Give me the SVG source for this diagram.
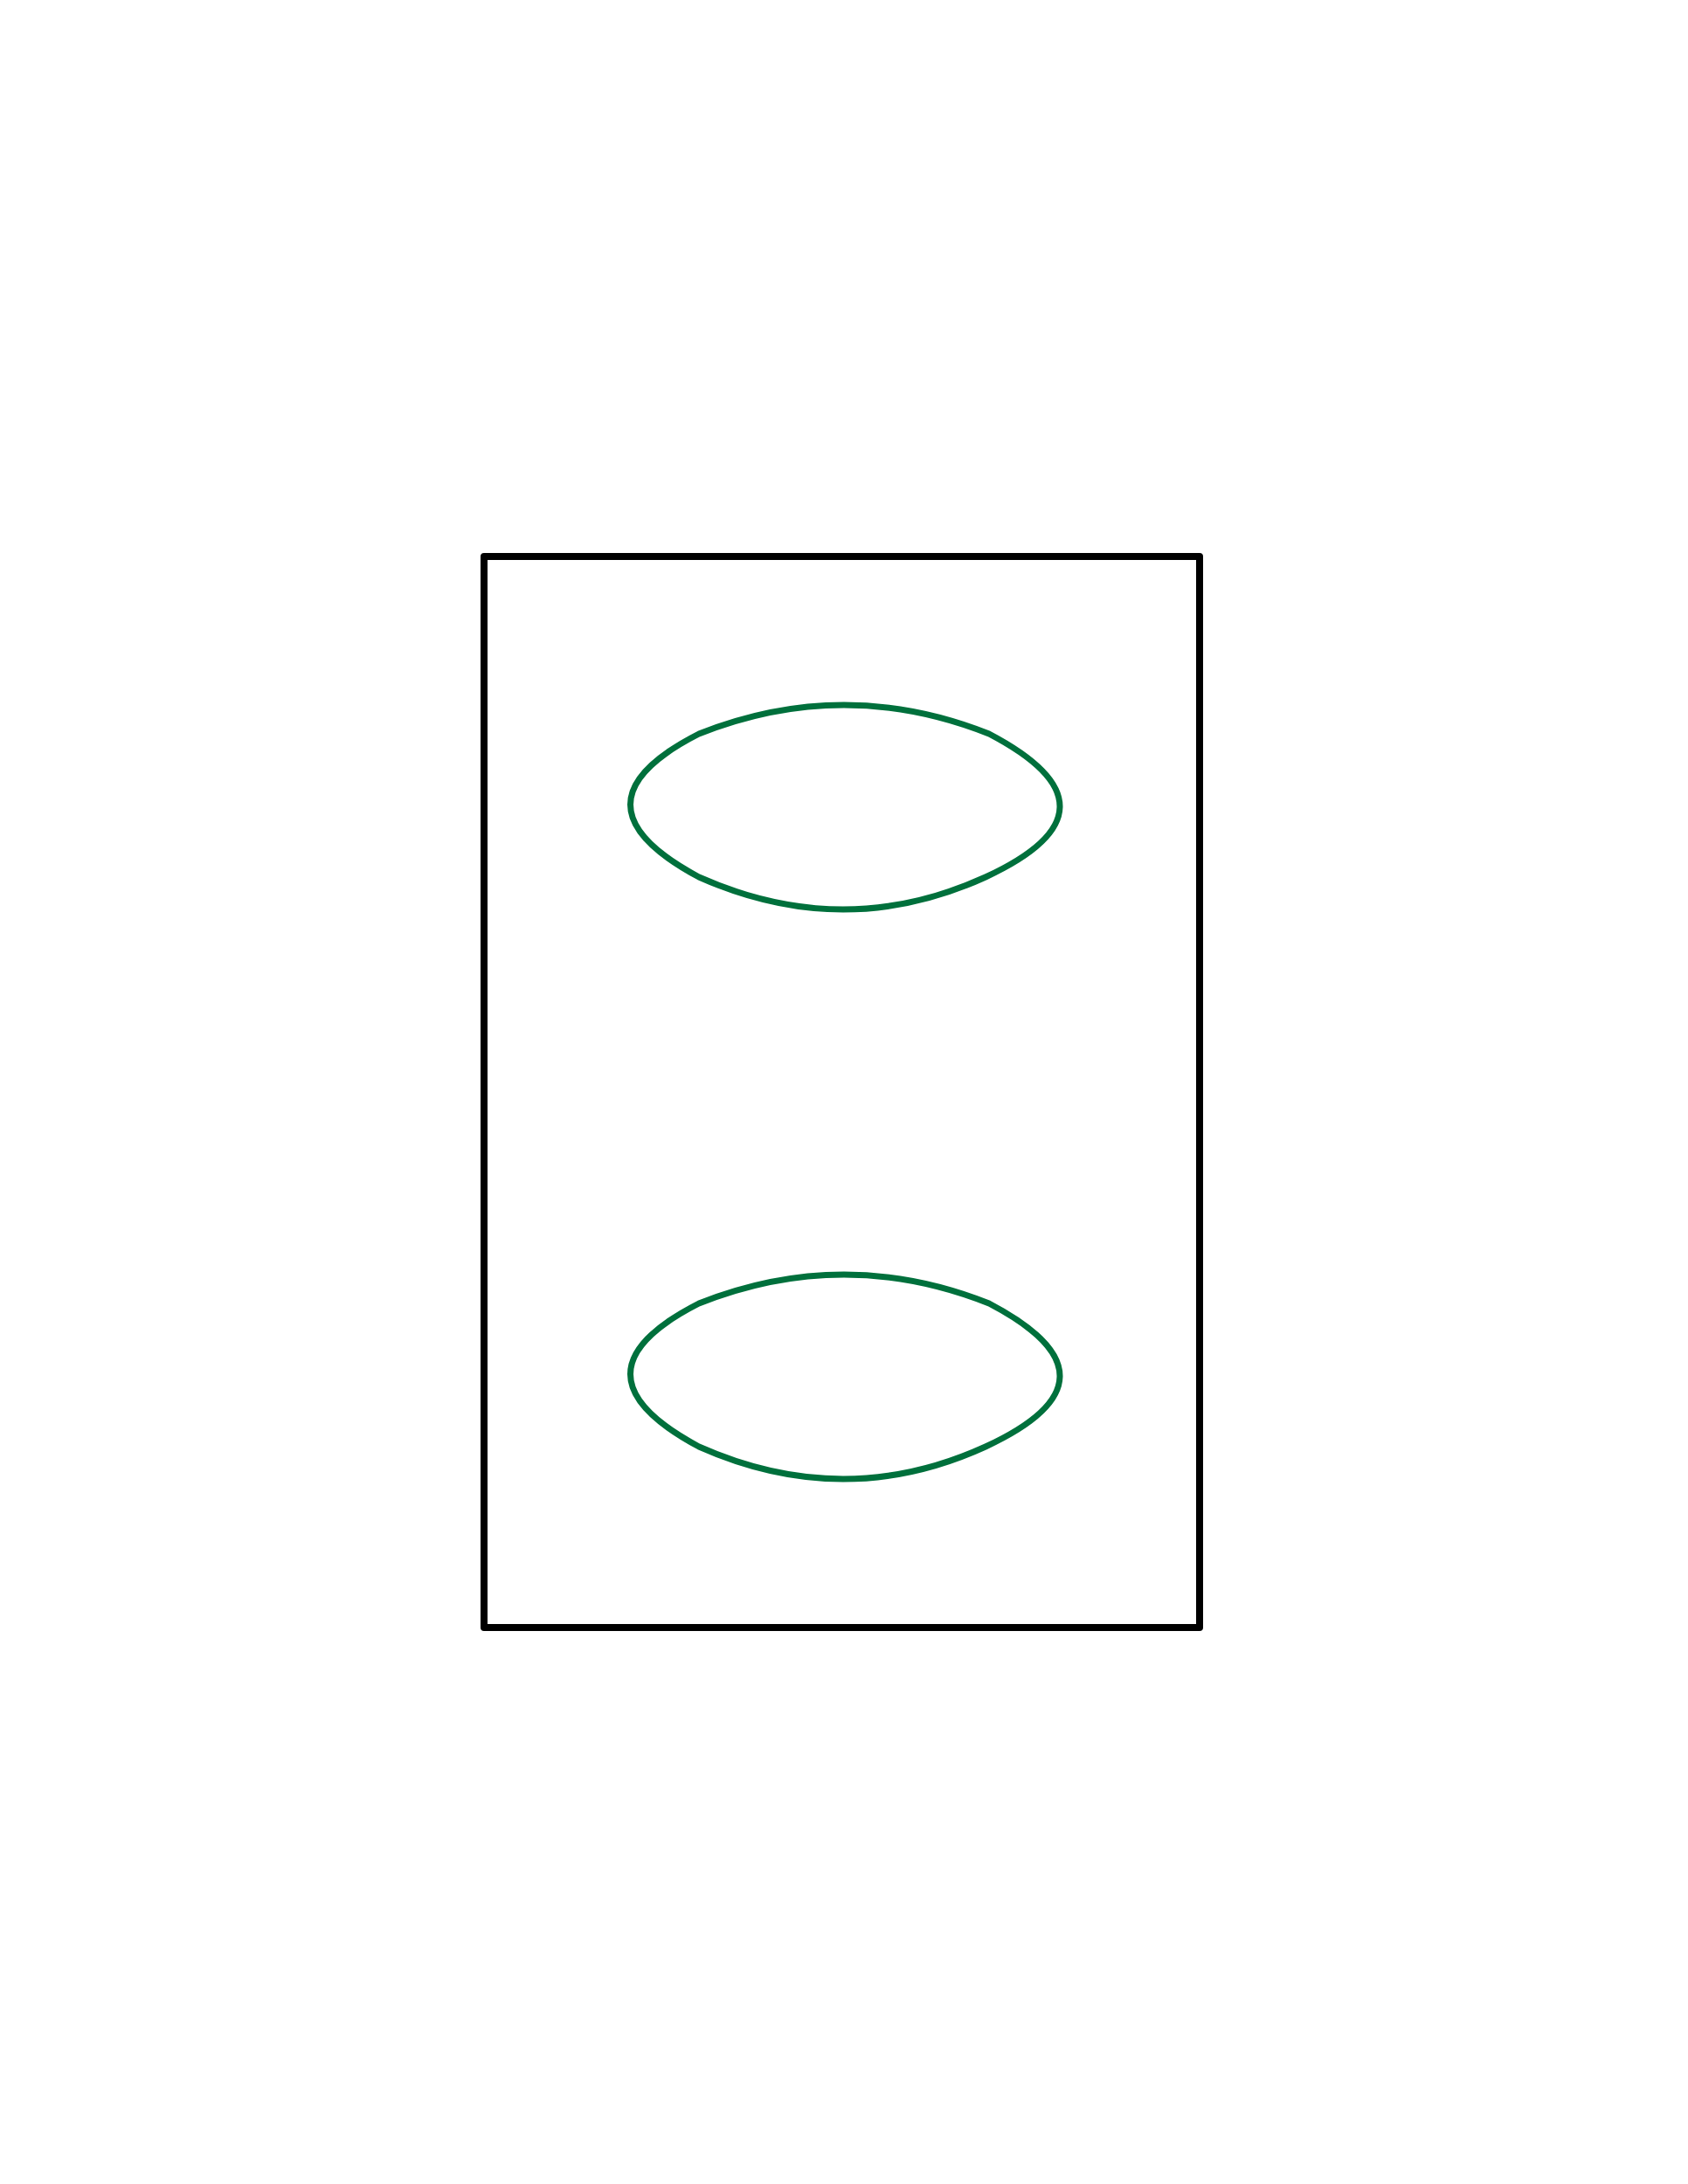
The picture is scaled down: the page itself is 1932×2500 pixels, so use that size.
<svg xmlns="http://www.w3.org/2000/svg" width="1932" height="2500" viewBox="0 0 1932 2500">
<style>
.frame{fill:none;stroke:#000;stroke-width:8;stroke-linejoin:round}
.blob{fill:none;stroke:#00703c;stroke-width:7;stroke-linejoin:miter}
</style>
<rect width="1932" height="2500" fill="#fff"/>
<defs>
<path id="lens" d="M800,840 Q966,774 1132,840 Q1296,926 1128,1004 Q966,1078 800,1004 Q643,920 800,840 Z"/>
</defs>
<g id="frame"><rect class="frame" x="554" y="637" width="819" height="1226"/></g>
<g id="top-shape"><use href="#lens" class="blob"/></g>
<g id="bottom-shape"><use href="#lens" class="blob" transform="translate(0,652)"/></g>
<g id="connectors"></g>
</svg>
